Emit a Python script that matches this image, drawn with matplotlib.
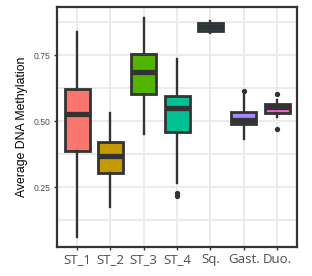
import matplotlib
matplotlib.use("Agg")
import matplotlib.pyplot as plt
from matplotlib.ticker import MultipleLocator

groups = ["ST_1", "ST_2", "ST_3", "ST_4", "Sq.", "Gast.", "Duo."]
whislo = [0.061, 0.174, 0.450, 0.265, 0.834, 0.432, 0.515]
q1 = [0.386, 0.303, 0.602, 0.458, 0.842, 0.488, 0.530]
med = [0.526, 0.367, 0.686, 0.550, 0.856, 0.503, 0.552]
q3 = [0.621, 0.420, 0.754, 0.595, 0.870, 0.533, 0.566]
whishi = [0.837, 0.530, 0.890, 0.735, 0.878, 0.598, 0.580]
fliers = [[], [], [], [0.227, 0.216], [], [0.614], [0.602, 0.470]]
colors = ["#F8766D", "#C49A00", "#53B400", "#00C094", "#00B6EB", "#A58AFF", "#FB61D7"]

stats = []
for i, g in enumerate(groups):
    stats.append(dict(label=g, whislo=whislo[i], q1=q1[i], med=med[i],
                      q3=q3[i], whishi=whishi[i], fliers=fliers[i]))

dark = "#333333"
fig = plt.figure(figsize=(3.12, 2.76), dpi=100)
ax = fig.add_axes([0.1827, 0.105, 0.7693, 0.8696])

ax.yaxis.set_major_locator(MultipleLocator(0.25))
ax.yaxis.set_minor_locator(MultipleLocator(0.125))
ax.grid(which="major", color="#EBEBEB", lw=1.4)
ax.grid(which="minor", axis="y", color="#EBEBEB", lw=1.4)
ax.set_axisbelow(True)

pos = list(range(1, len(groups) + 1))
bp = ax.bxp(stats, positions=pos, widths=0.75, patch_artist=True,
            showcaps=False,
            boxprops=dict(edgecolor=dark, linewidth=2.0),
            whiskerprops=dict(color=dark, linewidth=1.7),
            medianprops=dict(color=dark, linewidth=3.8, solid_capstyle="butt"),
            flierprops=dict(marker="o", markersize=2.8, markerfacecolor=dark,
                            markeredgecolor=dark))
for patch, c in zip(bp["boxes"], colors):
    patch.set_facecolor(c)

ax.set_xlim(0.4, 7.6)
ax.set_ylim(0.023, 0.932)
ax.set_xticks(pos)
ax.set_xticklabels(groups, fontfamily="Open Sans", fontsize=9.5, color="#4D4D4D")
ax.set_yticks([0.25, 0.5, 0.75])
ax.set_yticklabels(["0.25", "0.50", "0.75"], fontfamily="Liberation Sans",
                   fontsize=6.2, color="#4D4D4D")
ax.tick_params(which="major", length=2.5, width=1, color=dark, pad=2)
ax.tick_params(which="minor", length=0)
ax.set_ylabel("Average DNA Methylation", fontfamily="Liberation Sans",
              fontsize=8.8, labelpad=4)
for s in ax.spines.values():
    s.set_color(dark)
    s.set_linewidth(1.6)

fig.savefig("out.png", dpi=100)
